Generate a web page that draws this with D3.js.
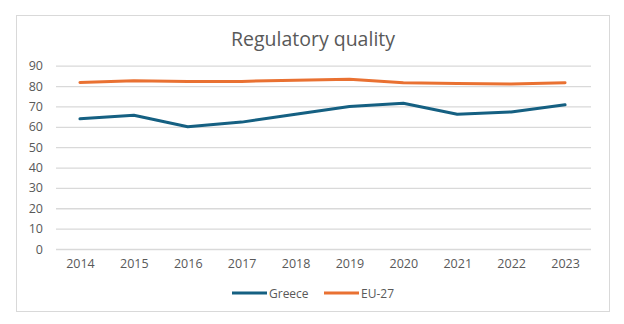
<!DOCTYPE html>
<html>
<head>
<meta charset="utf-8">
<script src="https://cdn.jsdelivr.net/npm/d3@7"></script>
<style>
  body { margin: 0; background: #fff; }
  text { font-family: "Open Sans", sans-serif; fill: #595959; }
</style>
</head>
<body>
<div id="graph"></div>
<script>
// chart data
var years = ["2014","2015","2016","2017","2018","2019","2020","2021","2022","2023"];
var greece = [63.9, 65.7, 60.0, 62.3, 66.2, 70.0, 71.6, 66.2, 67.3, 70.8];
var eu27 = [81.8, 82.6, 82.3, 82.3, 82.9, 83.3, 81.6, 81.3, 81.0, 81.6];
var yTicks = [0, 10, 20, 30, 40, 50, 60, 70, 80, 90];

var series = [
  {name: "Greece", values: greece, color: "#156082"},
  {name: "EU-27", values: eu27, color: "#E97132"}
];

var svg = d3.select("#graph").append("svg")
    .attr("width", 624).attr("height", 324);

// chart frame
svg.append("rect")
    .attr("x", 16.5).attr("y", 15.5)
    .attr("width", 593).attr("height", 296)
    .attr("fill", "#fff").attr("stroke", "#d9d9d9");

svg.append("text")
    .attr("x", 313).attr("y", 45.5)
    .attr("text-anchor", "middle")
    .style("font-size", "19.5px")
    .text("Regulatory quality");

var x = d3.scalePoint()
    .domain(years)
    .range([53, 592])
    .padding(0.5);

var y = d3.scaleLinear()
    .domain([0, 90])
    .range([249, 65.7]);

// gridlines + y labels
var yAxis = d3.axisLeft(y)
    .tickValues(yTicks)
    .tickSize(-535)
    .tickPadding(13);

svg.append("g")
    .attr("class", "y axis")
    .attr("transform", "translate(56,0)")
    .call(yAxis)
    .call(function(g){
      g.select(".domain").remove();
      g.selectAll("line").attr("stroke", "#d9d9d9").attr("stroke-width", 1.3);
      g.selectAll("text").style("font-size", "12.5px").attr("fill", "#595959");
    });

var xAxis = d3.axisBottom(x).tickSize(0).tickPadding(10);

svg.append("g")
    .attr("class", "x axis")
    .attr("transform", "translate(0,249)")
    .call(xAxis)
    .call(function(g){
      g.select(".domain").remove();
      g.selectAll("text").style("font-size", "12.5px").attr("fill", "#595959");
    });

var line = d3.line()
    .x(function(d, i){ return x(years[i]); })
    .y(function(d){ return y(d); });

svg.selectAll("path.series")
    .data(series)
    .enter().append("path")
    .attr("class", "series")
    .attr("d", function(s){ return line(s.values); })
    .attr("fill", "none")
    .attr("stroke", function(s){ return s.color; })
    .attr("stroke-width", 3)
    .attr("stroke-linejoin", "round")
    .attr("stroke-linecap", "round");

// legend
var legendX = [232, 324];
var legend = svg.selectAll("g.legend")
    .data(series)
    .enter().append("g")
    .attr("class", "legend")
    .attr("transform", function(d, i){ return "translate(" + legendX[i] + ",293)"; });

legend.append("line")
    .attr("x1", 0).attr("x2", 35)
    .attr("stroke", function(d){ return d.color; })
    .attr("stroke-width", 3);

legend.append("text")
    .attr("x", 37).attr("y", 4.5)
    .style("font-size", "12px")
    .text(function(d){ return d.name; });
</script>
</body>
</html>
